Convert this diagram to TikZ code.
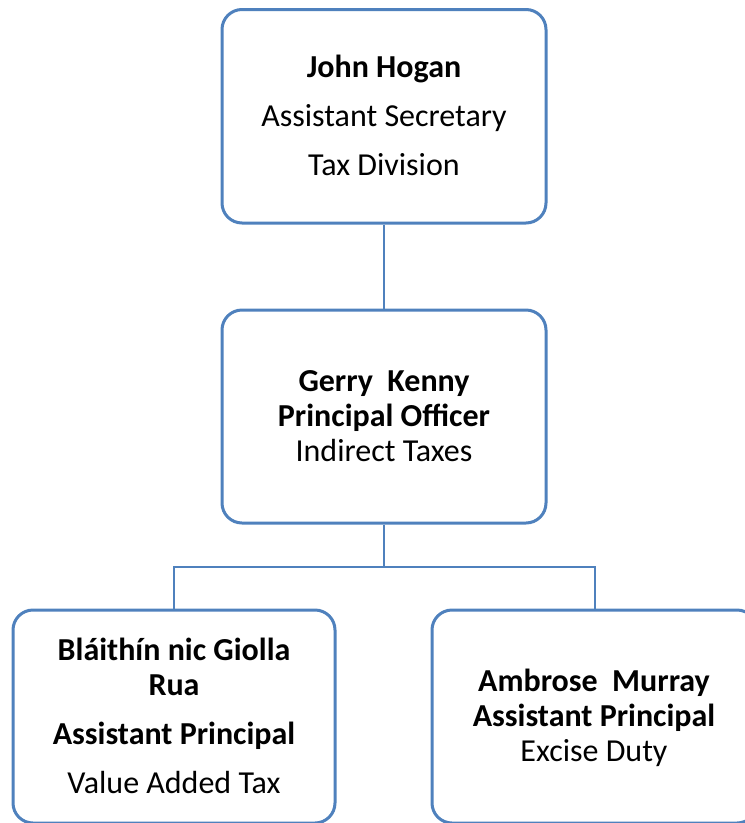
\documentclass[tikz,border=0pt]{standalone}
\usepackage{fontspec}
\setmainfont{Carlito}
\definecolor{orgblue}{HTML}{4F81BD}
\begin{document}
\begin{tikzpicture}[x=1pt,y=-1pt,
  orgbox/.style={draw=orgblue, line width=3pt, rounded corners=20pt, fill=white,
                 inner sep=0pt},
  link/.style={draw=orgblue, line width=2pt},
  txt/.style={anchor=base, inner sep=0pt, font=\fontsize{32}{38}\selectfont},
  btxt/.style={txt, font=\fontsize{32}{38}\selectfont\bfseries}]
\useasboundingbox (0,0) rectangle (745,823);
\clip (0,0) rectangle (745,823);

% boxes
\node[orgbox, minimum width=324pt, minimum height=213.5pt] (top) at (384,116.25) {};
\node[orgbox, minimum width=324pt, minimum height=213pt]   (mid) at (384,416.5) {};
\node[orgbox, minimum width=322pt, minimum height=213pt]   (bl)  at (174,716.5) {};
\node[orgbox, minimum width=325pt, minimum height=213pt]   (br)  at (594.5,716.5) {};

% connectors
\coordinate (split) at (384,567);
\draw[link] (top.south) -- (mid.north);
\draw[link] (mid.south) -- (split);
\draw[link] (split) -| (bl.north);
\draw[link] (split) -| (br.north);

% Assistant Secretary
\node[btxt] (t1) at (384,77)  {John Hogan};
\node[txt]  (t2) at (384,126) {Assistant Secretary};
\node[txt]  (t3) at (384,175) {Tax Division};

% Principal Officer
\node[btxt] (m1) at (384,391.5) {Gerry\ \ Kenny};
\node[btxt] (m2) at (384,426.5) {Principal Officer};
\node[txt]  (m3) at (384,461.5) {Indirect Taxes};

% Assistant Principal, VAT
\node[btxt] (l1) at (174,660) {Bláithín nic Giolla};
\node[btxt] (l2) at (174,695) {Rua};
\node[btxt] (l3) at (174,744) {Assistant Principal};
\node[txt]  (l4) at (174,793) {Value Added Tax};

% Assistant Principal, excise
\node[btxt] (r1) at (594,691.5) {Ambrose\ \ Murray};
\node[btxt] (r2) at (594,726.5) {Assistant Principal};
\node[txt]  (r3) at (594,761.5) {Excise Duty};
\end{tikzpicture}
\end{document}
